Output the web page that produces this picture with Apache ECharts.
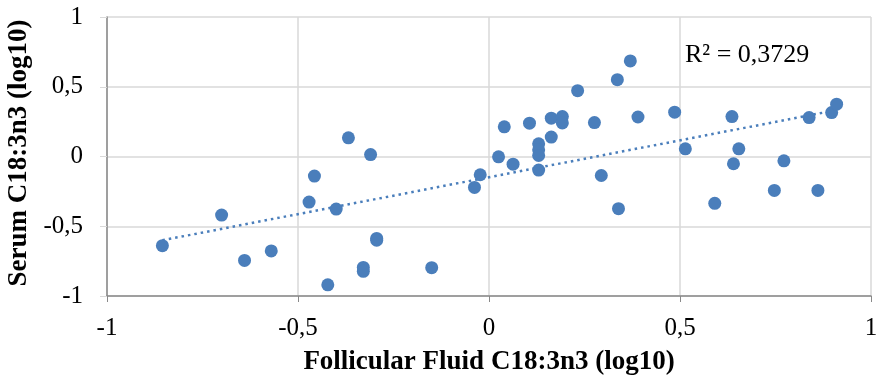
<!DOCTYPE html>
<html>
<head>
<meta charset="utf-8">
<script src="https://cdn.jsdelivr.net/npm/echarts@6/dist/echarts.min.js"></script>
<style>
  html, body { margin: 0; padding: 0; background: #fff; }
  #chart { width: 876px; height: 381px; }
</style>
</head>
<body>
<div id="chart"></div>
<script>
// follicular fluid (x) vs serum (y), both log10
const ffValues = [
  -0.855, -0.70, -0.64, -0.57, -0.422, -0.368, -0.31, -0.457, -0.471, -0.40,
  -0.294, -0.294, -0.329, -0.329, -0.15, -0.038, -0.023, 0.025, 0.063, 0.04,
  0.106, 0.13, 0.13, 0.13, 0.13, 0.163, 0.163, 0.192, 0.192, 0.232,
  0.276, 0.294, 0.336, 0.339, 0.37, 0.39, 0.486, 0.514, 0.591, 0.636,
  0.64, 0.654, 0.747, 0.772, 0.838, 0.861, 0.897, 0.91
];
const serumValues = [
  -0.639, -0.42, -0.745, -0.677, -0.92, 0.134, 0.014, -0.14, -0.327, -0.377,
  -0.587, -0.60, -0.795, -0.823, -0.797, -0.222, -0.131, -0.002, -0.055, 0.213,
  0.239, 0.091, 0.048, 0.007, -0.097, 0.275, 0.139, 0.286, 0.241, 0.472,
  0.243, -0.136, 0.551, -0.374, 0.685, 0.283, 0.318, 0.055, -0.336, 0.286,
  -0.052, 0.055, -0.243, -0.031, 0.279, -0.243, 0.315, 0.375
];
const axisTicks = [-1, -0.5, 0, 0.5, 1];
const rSquaredText = "R² = 0,3729";

const points = ffValues.map((x, i) => [x, serumValues[i]]);

// least squares trendline over the data range
const n = points.length;
const mx = ffValues.reduce((a, b) => a + b, 0) / n;
const my = serumValues.reduce((a, b) => a + b, 0) / n;
let sxy = 0, sxx = 0;
points.forEach(([x, y]) => { sxy += (x - mx) * (y - my); sxx += (x - mx) * (x - mx); });
const slope = sxy / sxx;
const intercept = my - slope * mx;
const xMin = Math.min(...ffValues);
const xMax = Math.max(...ffValues);
const trend = [[xMin, intercept + slope * xMin], [xMax, intercept + slope * xMax]];

const fmt = (v) => String(v).replace(".", ",");
const serif = "'Liberation Serif', 'Times New Roman', serif";
const blue = "#4a7ebb";

const chart = echarts.init(document.getElementById("chart"));
chart.setOption({
  animation: false,
  grid: { left: 107, right: 5, top: 17, bottom: 85, containLabel: false, outerBoundsMode: "none" },
  xAxis: {
    type: "value",
    min: axisTicks[0],
    max: axisTicks[axisTicks.length - 1],
    interval: 0.5,
    name: "Follicular Fluid C18:3n3 (log10)",
    nameLocation: "middle",
    nameGap: 53,
    nameTextStyle: { fontFamily: serif, fontWeight: "bold", fontSize: 27, color: "#000" },
    axisLine: { show: true, onZero: false, lineStyle: { color: "#898989", width: 1.5 } },
    axisTick: { show: true, length: 6, lineStyle: { color: "#898989" } },
    axisLabel: { fontFamily: serif, fontSize: 25, color: "#000", margin: 20, formatter: fmt },
    splitLine: { show: true, lineStyle: { color: "#d9d9d9", width: 1.5 } }
  },
  yAxis: {
    type: "value",
    min: axisTicks[0],
    max: axisTicks[axisTicks.length - 1],
    interval: 0.5,
    name: "Serum C18:3n3 (log10)",
    nameLocation: "middle",
    nameGap: 69,
    nameRotate: 90,
    nameTextStyle: { fontFamily: serif, fontWeight: "bold", fontSize: 27, color: "#000", padding: [0, 0, 0, 7] },
    axisLine: { show: true, onZero: false, lineStyle: { color: "#898989", width: 1.5 } },
    axisTick: { show: true, length: 7, lineStyle: { color: "#d9d9d9" } },
    axisLabel: { fontFamily: serif, fontSize: 25, color: "#000", margin: 24, formatter: fmt },
    splitLine: { show: true, lineStyle: { color: "#d9d9d9", width: 1.5 } }
  },
  series: [
    {
      type: "line",
      data: trend,
      symbol: "none",
      lineStyle: { color: blue, width: 2.5, type: [2.5, 4] },
      z: 3
    },
    {
      type: "scatter",
      data: points,
      symbolSize: 13,
      itemStyle: { color: blue, opacity: 1 },
      z: 4
    }
  ],
  graphic: [
    {
      type: "text",
      left: 685,
      top: 42,
      style: { text: rSquaredText, fontFamily: serif, fontSize: 26, fill: "#000" }
    }
  ]
});
</script>
</body>
</html>
